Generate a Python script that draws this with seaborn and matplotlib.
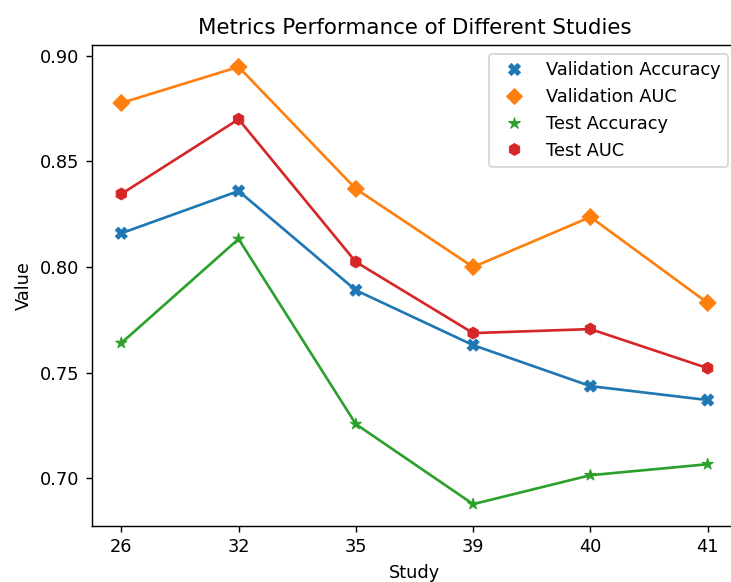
import matplotlib
matplotlib.use("Agg")
import matplotlib.pyplot as plt
import seaborn as sns
import pandas as pd

studies = ["26", "32", "35", "39", "40", "41"]
val_accuracy = [0.816, 0.836, 0.789, 0.763, 0.7436, 0.737]
val_auc = [0.8777, 0.8948, 0.837, 0.800, 0.8237, 0.783]
test_accuracy = [0.764, 0.8133, 0.7256, 0.6877, 0.7014, 0.7066]
test_auc = [0.8346, 0.870, 0.8024, 0.7687, 0.7706, 0.7521]

metric_names = ["Validation Accuracy", "Validation AUC", "Test Accuracy", "Test AUC"]
metric_values = [val_accuracy, val_auc, test_accuracy, test_auc]

rows = []
for name, vals in zip(metric_names, metric_values):
    for s, v in zip(studies, vals):
        rows.append({"Study": s, "Value": v, "Metric": name})
df = pd.DataFrame(rows)

DPI = 128
W, H = 731, 582
fig = plt.figure(figsize=(W / DPI, H / DPI), dpi=DPI)
ax = fig.add_axes([92 / W, 1 - 526 / H, (737 - 92) / W, (526 - 45) / H])

sns.lineplot(data=df, x="Study", y="Value", hue="Metric", legend=False, ax=ax)
sns.scatterplot(data=df, x="Study", y="Value", hue="Metric", style="Metric",
                markers=["X", "D", "*", "h"], s=45, edgecolor=None, ax=ax)

ax.set_title("Metrics Performance of Different Studies")
ax.set_xlabel("Study")
ax.set_ylabel("Value")
ax.legend(loc="upper right")

fig.savefig("out.png", dpi=DPI)
